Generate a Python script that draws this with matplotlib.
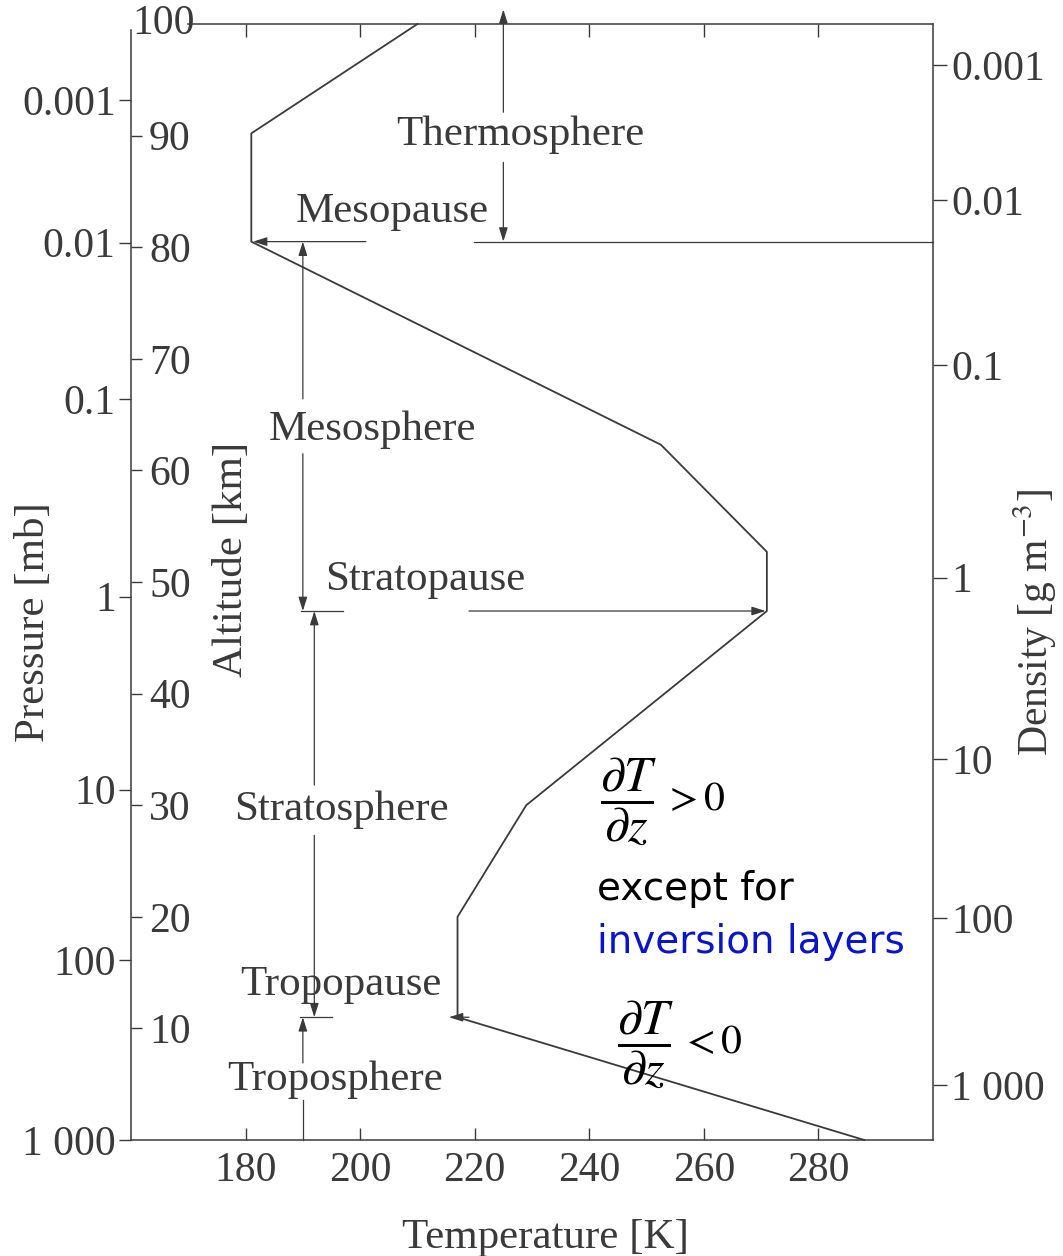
import matplotlib.pyplot as plt
import matplotlib.transforms as mtransforms

plt.rcParams['font.family'] = ['Liberation Serif', 'DejaVu Serif']
plt.rcParams['mathtext.fontset'] = 'stix'

# standard atmosphere temperature profile (vertices)
temp_k = [288, 217, 217, 229, 271, 271, 252.5, 181, 181, 210]
alt_km = [0, 11, 20, 30, 47.4, 52.7, 62.3, 80.5, 90.2, 100]

temp_ticks = [180, 200, 220, 240, 260, 280]
alt_ticks = [10, 20, 30, 40, 50, 60, 70, 80, 90]

# pressure (left) and density (right) scales, given as altitude of each tick
pressure_labels = ['0.001', '0.01', '0.1', '1', '10', '100', '1 000']
pressure_alt = [93.2, 80.4, 66.4, 48.7, 31.4, 16.1, 0]
density_labels = ['0.001', '0.01', '0.1', '1', '10', '100', '1 000']
density_alt = [96.3, 84.2, 69.4, 50.4, 34.1, 19.9, 4.9]

# layer boundaries
tropopause_km = 11
stratopause_km = 47.4
mesopause_km = 80.5

ink = '#3a3a3a'
W, H = 1063, 1256
fig = plt.figure(figsize=(W / 100, H / 100), dpi=100)
ax = fig.add_axes([131 / W, 1 - 1140 / H, 802 / W, 1116 / H])

axp = ax.twinx()
axd = ax.twinx()
for a in (axp, axd):
    a.set_ylim(0, 100)
    for s in a.spines.values():
        s.set_visible(False)

ax.plot(temp_k, alt_km, color=ink, lw=1.3, zorder=3, clip_on=False)
ax.set_xlim(160, 300)
ax.set_ylim(0, 100)

for s in ax.spines.values():
    s.set_color(ink)
    s.set_linewidth(1.1)
ax.spines['top'].set_bounds(170, 300)
ax.spines['left'].set_bounds(0, 99.5)

ax.set_xticks(temp_ticks)
ax.tick_params(axis='x', direction='in', length=9, width=1, top=True,
               labelsize=30, pad=8, colors=ink)
ax.yaxis.tick_left()
ax.set_yticks(alt_ticks)
ax.tick_params(axis='y', direction='in', length=8, width=1, pad=-13,
               labelsize=30, colors=ink)
for lab in ax.get_yticklabels():
    lab.set_horizontalalignment('left')

axp.yaxis.tick_left()
axp.set_yticks(pressure_alt, pressure_labels)
axp.tick_params(axis='y', direction='out', length=9, width=1, pad=2,
                labelsize=30, colors=ink)

axd.yaxis.tick_right()
axd.set_yticks(density_alt, density_labels)
axd.tick_params(axis='y', direction='out', length=10, width=1, pad=3,
                labelsize=30, colors=ink)

blend = mtransforms.blended_transform_factory(ax.transAxes, ax.transData)
ax.text(0.002, 100, '100', transform=blend, ha='left', va='center',
        fontsize=30, color=ink)

ax.set_xlabel('Temperature [K]', fontsize=31, color=ink)
ax.xaxis.set_label_coords(0.517, -0.07)
fig.text(34 / W, 1 - 622 / H, 'Pressure [mb]', rotation=90, ha='center',
         va='center', fontsize=31, color=ink)
fig.text(1035 / W, 1 - 622 / H, r'Density [g m$^{-3}$]', rotation=90,
         ha='center', va='center', fontsize=30, color=ink)
ax.text(177.5, 52, 'Altitude [km]', rotation=90, ha='center', va='center',
        fontsize=31, color=ink)


def arrow(x0, y0, x1, y1):
    ax.annotate('', xy=(x1, y1), xytext=(x0, y0), annotation_clip=False,
                arrowprops=dict(arrowstyle='-|>,head_length=0.7,head_width=0.22',
                                color=ink, lw=0.9, mutation_scale=12,
                                shrinkA=0, shrinkB=0))


def seg(xs, ys):
    ax.plot(xs, ys, color=ink, lw=0.9, clip_on=False)


# thermosphere / mesopause
arrow(225, 92.1, 225, 101.3)
arrow(225, 87.6, 225, mesopause_km)
seg([219.8, 300], [mesopause_km, mesopause_km])
arrow(201, mesopause_km, 181.3, mesopause_km)

# mesosphere / stratopause
arrow(190, 66.4, 190, mesopause_km)
arrow(190, 61.5, 190, stratopause_km)
seg([189.7, 197], [stratopause_km, stratopause_km])
arrow(219, stratopause_km, 270.8, stratopause_km)

# stratosphere / tropopause / troposphere
arrow(192, 31.8, 192, stratopause_km)
arrow(192, 27.3, 192, tropopause_km)
seg([189.5, 195], [tropopause_km, tropopause_km])
arrow(219, tropopause_km, 215.5, tropopause_km)
arrow(190, 6.9, 190, tropopause_km)
seg([190, 190], [3.6, 0])

label_kw = dict(ha='center', va='center', fontsize=31, color=ink)
ax.text(227.9, 90.1, 'Thermosphere', **label_kw)
ax.text(205.7, 83.2, 'Mesopause', **label_kw)
ax.text(202.2, 63.6, 'Mesosphere', **label_kw)
ax.text(211.3, 50.2, 'Stratopause', **label_kw)
ax.text(196.8, 29.6, 'Stratosphere', **label_kw)
ax.text(196.6, 13.9, 'Tropopause', **label_kw)
ax.text(195.6, 5.4, 'Troposphere', **label_kw)

# lapse-rate notes
frac = r'$\dfrac{\partial T}{\partial z}$'
ax.text(241.8, 30.4, frac, fontsize=36, ha='left', va='center', color='black')
ax.text(252.9, 30.5, r'$>0$', fontsize=30, ha='left', va='center', color='black')
ax.text(241.3, 22.5, 'except for', fontsize=28, family='DejaVu Sans',
        ha='left', va='center', color='black')
ax.text(241.3, 17.7, 'inversion layers', fontsize=28, family='DejaVu Sans',
        ha='left', va='center', color='#0a14c8')
ax.text(244.8, 8.6, frac, fontsize=36, ha='left', va='center', color='black')
ax.text(255.9, 8.7, r'$<0$', fontsize=30, ha='left', va='center', color='black')

fig.savefig('out.png', dpi=100)
